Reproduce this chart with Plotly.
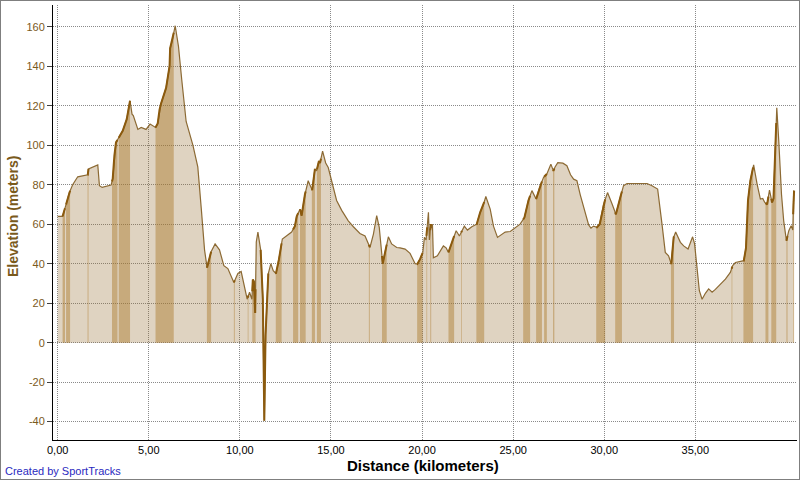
import numpy as np
import plotly.graph_objects as go

# ---- data ----
dist_km = [0.0, 0.27, 0.46, 0.64, 0.82, 1.10, 1.65, 1.69, 2.20, 2.29, 2.44, 2.93, 3.02, 3.11, 3.20,
           3.57, 3.79, 3.97, 4.08, 4.15, 4.40, 4.58, 4.85, 5.07, 5.20, 5.37, 5.49, 5.59, 5.67, 5.95,
           6.14, 6.17, 6.26, 6.45, 6.63, 6.81, 7.05, 7.42, 7.69, 7.88, 8.06, 8.20, 8.42, 8.64, 8.88,
           9.12, 9.34, 9.67, 9.89, 10.07, 10.29, 10.40, 10.53, 10.66, 10.71, 10.77, 10.84, 10.90, 10.99,
           11.14, 11.26, 11.34, 11.41, 11.56, 11.70, 11.83, 11.98, 12.14, 12.33, 12.51, 12.84, 13.02,
           13.12, 13.30, 13.39, 13.57, 13.75, 13.84, 13.97, 14.12, 14.21, 14.34, 14.40, 14.54, 14.71,
           14.85, 15.13, 15.31, 15.59, 15.95, 16.23, 16.59, 16.87, 17.14, 17.33, 17.51, 17.65, 17.84,
           17.97, 18.15, 18.33, 18.61, 18.79, 19.07, 19.34, 19.62, 19.74, 19.89, 20.04, 20.13, 20.22,
           20.35, 20.40, 20.48, 20.52, 20.57, 20.62, 20.84, 21.17, 21.32, 21.45, 21.63, 21.87, 22.05,
           22.32, 22.49, 22.73, 23.00, 23.19, 23.37, 23.50, 23.74, 23.92, 24.14, 24.30, 24.56, 24.84,
           25.11, 25.38, 25.62, 25.84, 26.03, 26.26, 26.45, 26.67, 26.85, 26.95, 27.07, 27.21, 27.30,
           27.45, 27.73, 27.95, 28.15, 28.32, 28.50, 28.68, 28.86, 29.14, 29.27, 29.41, 29.60, 29.75,
           29.96, 30.18, 30.42, 30.64, 30.88, 31.06, 31.25, 32.35, 32.62, 32.93, 33.17, 33.35, 33.53,
           33.68, 33.81, 33.92, 34.18, 34.36, 34.60, 34.85, 34.96, 35.09, 35.22, 35.37, 35.55, 35.73,
           35.92, 36.10, 36.37, 36.65, 36.92, 37.05, 37.20, 37.47, 37.66, 37.78, 37.89, 38.02, 38.20,
           38.39, 38.57, 38.70, 38.81, 38.94, 39.07, 39.21, 39.29, 39.37, 39.47, 39.58, 39.73, 39.85,
           40.00, 40.13, 40.26, 40.35, 40.40]
elev_m = [64, 64, 70, 76, 80, 84, 85, 88, 90, 79.5, 78.6, 79.8, 83, 94.6, 101.4,
          107.3, 113.2, 122.5, 115.7, 115, 108, 109, 108, 110.7, 110, 109, 111, 118, 121, 129,
          140, 149, 152, 160.5, 150, 133, 112, 100, 89, 68, 47, 38, 46, 50, 47,
          39, 37.5, 30.5, 35, 36, 25.5, 22, 25.5, 22, 32, 31, 15, 51, 56,
          47, 22, -39.5, 4, 35, 40, 36.4, 35, 42, 52.5, 53.6, 56, 59,
          64, 67.6, 64.3, 75, 82, 80, 77.3, 88, 87, 92, 91, 97, 91,
          88.7, 78.6, 72, 67, 61.7, 58.7, 55.3, 54, 48.2, 55, 64.3, 58.4, 40,
          45.7, 53.6, 50, 48.2, 48, 47.4, 45.2, 40, 39.8, 42.3, 45.7, 53.3, 52,
          66, 52, 60, 58, 60, 43, 44, 49, 48, 45.7, 50.8, 56.7, 54,
          59, 57, 58.7, 60, 66, 70, 74, 67.6, 59, 53.3, 54.5, 56, 56.3,
          58, 60, 63.4, 72, 77, 72.7, 78.6, 83.7, 85.4, 88, 90.4, 87, 89,
          91.2, 90.9, 89.6, 85, 82.8, 82, 75, 68.5, 59.7, 58, 59, 58.4, 60,
          70, 76, 70.5, 65, 73.5, 79.5, 80.6, 80.6, 79.5, 77.8, 60, 45.7, 44,
          39.8, 53.3, 56, 50.8, 49, 47.4, 53.6, 50, 36.4, 26.3, 22, 25, 27.2,
          25.5, 27, 29.7, 32.2, 35.6, 39, 40.6, 41, 41.5, 48, 72, 82, 90,
          80.3, 72.7, 73, 71, 70, 77.3, 71, 73, 93, 119, 102, 75, 61.7,
          51.6, 56.7, 59.2, 57, 77]

# steep-grade shaded stretches (km)
band_start = [0.27, 0.46, 1.64, 2.98, 3.35, 5.37, 8.19, 9.67, 10.43, 10.68, 11.97, 12.92, 13.30,
              13.95, 14.23, 17.08, 17.80, 19.73, 20.24, 20.45, 21.45, 22.15, 22.98, 25.55, 26.26,
              26.70, 27.19, 29.56, 30.60, 33.66, 36.99, 37.64, 38.85, 39.17, 40.00, 40.37]
band_end = [0.40, 0.68, 1.69, 3.28, 3.97, 6.37, 8.42, 9.72, 10.47, 10.86, 12.29, 13.20, 13.61,
            14.12, 14.45, 17.13, 18.06, 20.03, 20.28, 20.50, 21.76, 22.19, 23.41, 25.93, 26.58,
            26.85, 27.26, 30.05, 30.97, 33.83, 37.03, 38.17, 39.01, 39.44, 40.06, 40.42]
# extra stretch drawn with the heavy line (sharp dip)
heavy_start = [11.14]
heavy_end = [11.56]

x_tick_vals = [0, 5, 10, 15, 20, 25, 30, 35]
x_tick_text = ["0,00", "5,00", "10,00", "15,00", "20,00", "25,00", "30,00", "35,00"]
y_tick_vals = [-40, -20, 0, 20, 40, 60, 80, 100, 120, 140, 160]
y_tick_text = ["-40", "-20", "0", "20", "40", "60", "80", "100", "120", "140", "160"]

# ---- styles ----
BASE_FILL = "rgba(150,110,50,0.30)"
BAND_FILL = "rgba(170,120,40,0.45)"
THIN_LINE = "#8C6A34"
HEAVY_LINE = "#8B5A0E"
FONT = "Liberation Sans"
GRID = "#8a8a8a"

d = np.array(dist_km, dtype=float)
e = np.array(elev_m, dtype=float)
e_pos = np.clip(e, 0, None)


def segment(s, t, vals):
    inner = (d > s) & (d < t)
    xs = np.concatenate([[s], d[inner], [t]])
    ys = np.concatenate([[np.interp(s, d, vals)], vals[inner], [np.interp(t, d, vals)]])
    return xs, ys


fig = go.Figure()
fig.add_trace(go.Scatter(x=d, y=e_pos, mode="lines", line=dict(width=0),
                         fill="tozeroy", fillcolor=BASE_FILL, hoverinfo="skip", showlegend=False))
for s, t in zip(band_start, band_end):
    xs, ys = segment(s, t, e_pos)
    fig.add_trace(go.Scatter(x=xs, y=ys, mode="lines", line=dict(width=0),
                             fill="tozeroy", fillcolor=BAND_FILL, hoverinfo="skip", showlegend=False))
fig.add_trace(go.Scatter(x=d, y=e, mode="lines", line=dict(width=1.2, color=THIN_LINE),
                         showlegend=False))
for s, t in list(zip(band_start, band_end)) + list(zip(heavy_start, heavy_end)):
    xs, ys = segment(s, t, e)
    fig.add_trace(go.Scatter(x=xs, y=ys, mode="lines", line=dict(width=2, color=HEAVY_LINE),
                             hoverinfo="skip", showlegend=False))

L, R, T, B = 53, 3, 5, 40
W, H = 800, 480
pw, ph = W - L - R, H - T - B

fig.update_layout(
    width=W, height=H,
    margin=dict(l=L, r=R, t=T, b=B, pad=0),
    paper_bgcolor="white", plot_bgcolor="white",
    font=dict(family=FONT, size=11, color="black"),
    xaxis=dict(range=[-0.258, 40.58], tickvals=x_tick_vals, ticktext=x_tick_text,
               showgrid=True, gridcolor=GRID, griddash="1px,1px", gridwidth=1,
               zeroline=False, showline=True, linecolor="black", linewidth=1,
               ticks="", tickfont=dict(family=FONT, size=11, color="black")),
    yaxis=dict(range=[-49.3, 171.0], tickvals=y_tick_vals, ticktext=y_tick_text,
               showgrid=True, gridcolor=GRID, griddash="1px,1px", gridwidth=1,
               zeroline=False, showline=True, linecolor="black", linewidth=1,
               ticks="outside", ticklen=5, tickcolor="#404040",
               tickfont=dict(family=FONT, size=11, color="#7A5A1C")),
    annotations=[
        dict(text="<b>Distance (kilometers)</b>", xref="paper", yref="paper",
             x=(423 - L) / pw, y=(H - B - 465) / ph, xanchor="center", yanchor="middle",
             showarrow=False, font=dict(family=FONT, size=15, color="black")),
        dict(text="<b>Elevation (meters)</b>", xref="paper", yref="paper",
             x=(13 - L) / pw, y=(H - B - 217) / ph, xanchor="center", yanchor="middle",
             textangle=-90, showarrow=False, font=dict(family=FONT, size=14, color="#7A5A1C")),
        dict(text="Created by SportTracks", xref="paper", yref="paper",
             x=(3 - L) / pw, y=(H - B - 471) / ph, xanchor="left", yanchor="middle",
             showarrow=False, font=dict(family=FONT, size=11, color="#2A2AC0")),
    ],
    shapes=[dict(type="rect", xref="paper", yref="paper",
                 x0=(0 - L) / pw, x1=(W - L) / pw, y0=(H - B - H) / ph, y1=(H - B) / ph,
                 line=dict(color="#7F7F7F", width=2), fillcolor="rgba(0,0,0,0)", layer="above")],
)

fig.write_html("out.html", config={"displayModeBar": False},
               post_script="document.body.style.margin='0';document.body.style.overflow='hidden';")
